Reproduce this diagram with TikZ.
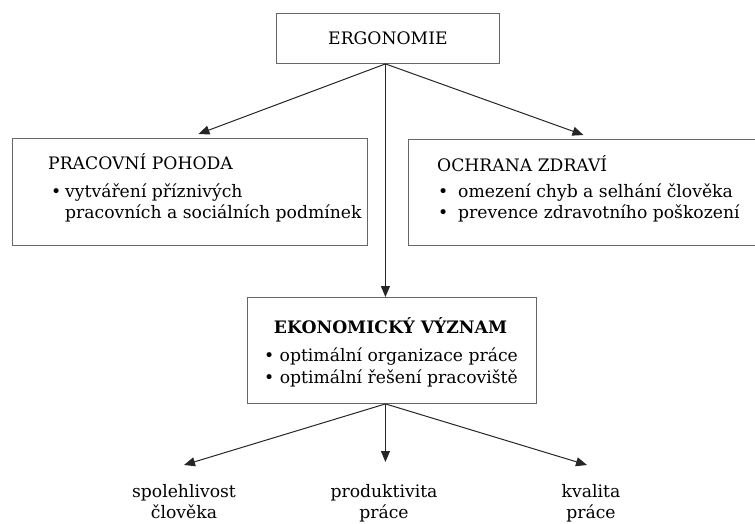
\documentclass[tikz,border=0pt]{standalone}
\usepackage{fontspec}
\setmainfont{DejaVu Serif}
\usetikzlibrary{arrows.meta}
\begin{document}
\begin{tikzpicture}[x=1pt,y=-1pt,
  fs/.style={font=\fontsize{17.2}{21}\selectfont},
  box/.style={draw=black!60,line width=0.9pt,inner sep=0pt,anchor=north west},
  arr/.style={draw=black!85,line width=1pt,-{Triangle[length=11pt,width=9pt]}},
  txt/.style={fs,inner sep=0pt,anchor=base west},
  ctxt/.style={fs,inner sep=0pt,anchor=base},
  btxt/.style={font=\fontsize{17.2}{21}\selectfont\bfseries,inner sep=0pt,anchor=base},
  lbl/.style={fs,inner sep=0pt,anchor=north,align=center}
]
\useasboundingbox (0,0) rectangle (755,523);

% boxes
\node[box,minimum width=223pt,minimum height=50pt,fs] (ergo) at (276,13) {ERGONOMIE};
\node[box,minimum width=355pt,minimum height=107pt] (pp) at (12,138) {};
\node[box,minimum width=357pt,minimum height=106pt] (oz) at (408,139) {};
\node[box,minimum width=289pt,minimum height=106pt] (ek) at (247,297) {};

% left box text
\node[txt] (ppt) at (48,169) {PRACOVNÍ POHODA};
\node[txt] (ppb1) at (51,197) {\textbullet};
\node[txt] (pp1) at (65,197) {vytváření příznivých};
\node[txt] (pp2) at (65,218) {pracovních a sociálních podmínek};

% right box text
\node[txt] (ozt) at (437,171) {OCHRANA ZDRAVÍ};
\node[txt] (ozb1) at (438,197) {\textbullet};
\node[txt] (oz1) at (458,197) {omezení chyb a selhání člověka};
\node[txt] (ozb2) at (438,218) {\textbullet};
\node[txt] (oz2) at (458,218) {prevence zdravotního poškození};

% center box text
\node[btxt] (ekt) at (390.5,333) {EKONOMICKÝ VÝZNAM};
\node[ctxt] (ek1) at (391,361) {\textbullet\ optimální organizace práce};
\node[ctxt] (ek2) at (391,383) {\textbullet\ optimální řešení pracoviště};

% bottom labels
\node[lbl] (l1) at (184,484) {spolehlivost\\člověka};
\node[lbl] (l2) at (384,484) {produktivita\\práce};
\node[lbl] (l3) at (591,484) {kvalita\\práce};

% connectors
\coordinate (hubA) at ([xshift=-2.5pt]ergo.south);
\coordinate (hubB) at ([xshift=-6.5pt]ek.south);
\coordinate (tA) at ([xshift=8.5pt,yshift=4pt]pp.north);
\coordinate (tB) at ([xshift=-3.5pt,yshift=4pt]oz.north);
\draw[arr] (hubA) -- (tA);
\draw[arr] (hubA) -- (tB);
\draw[arr] (hubA) -- (hubA |- ek.north);
\draw[arr] (hubB) -- ([yshift=19pt]l1.north);
\draw[arr] (hubB) -- ([yshift=22pt]hubB |- l2.north);
\draw[arr] (hubB) -- ([xshift=-4pt,yshift=19pt]l3.north);
\end{tikzpicture}
\end{document}
